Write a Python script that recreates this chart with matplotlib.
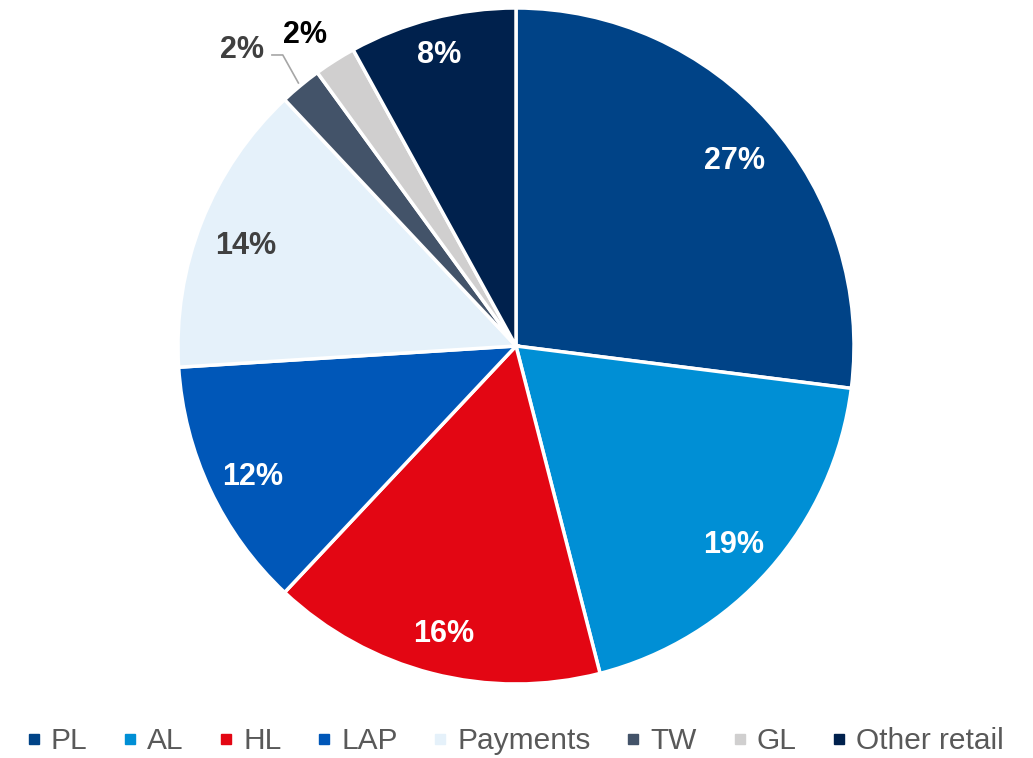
import math
import matplotlib.pyplot as plt
from matplotlib.lines import Line2D

plt.rcParams['font.family'] = ['Liberation Sans', 'DejaVu Sans']

# data
categories = ["PL", "AL", "HL", "LAP", "Payments", "TW", "GL", "Other retail"]
shares = [27, 19, 16, 12, 14, 2, 2, 8]
colors = ["#004387", "#008FD5", "#E30613", "#0057B8", "#E5F1FA", "#435369", "#D0CFCF", "#00214D"]
label_colors = ["white", "white", "white", "white", "#404040", "#404040", "black", "white"]

W, H = 1033, 758
fig = plt.figure(figsize=(W / 100, H / 100), dpi=100)

cx, cy, r = 516, 346, 338
ax = fig.add_axes([(cx - r) / W, (H - cy - r) / H, 2 * r / W, 2 * r / H])

wedges, _ = ax.pie(shares, colors=colors, startangle=90, counterclock=False,
                   radius=1.0, wedgeprops=dict(edgecolor="white", linewidth=2.5))
ax.set_xlim(-1, 1)
ax.set_ylim(-1, 1)
ax.set_aspect("equal")
ax.axis("off")

for i, (w, val) in enumerate(zip(wedges, shares)):
    mid = math.radians((w.theta1 + w.theta2) / 2)
    txt = f"{val}%"
    kw = dict(ha="center", va="center", fontsize=22, fontweight="bold",
              color=label_colors[i])
    if categories[i] == "TW":
        # outside label with a leader line
        ax.text(-0.81, 0.876, txt, **kw)
        ex, ey = 1.01 * math.cos(mid), 1.01 * math.sin(mid)
        ax.plot([-0.722, -0.69, ex], [0.861, 0.861, ey], color="#A6A6A6", lw=1.2)
    elif categories[i] == "GL":
        ax.text(-0.624, 0.92, txt, **kw)
    else:
        d = 0.86 if val > 9 else 0.91
        ax.text(d * math.cos(mid), d * math.sin(mid) - 0.02, txt, **kw)

handles = [Line2D([], [], marker="s", linestyle="none", markersize=7.5,
                  markerfacecolor=c, markeredgecolor=c) for c in colors]
fig.legend(handles, categories, loc="center", bbox_to_anchor=(0.499, 1 - 741 / H),
           ncol=len(categories), frameon=False, fontsize=21.5,
           handlelength=0.45, handletextpad=0.35, columnspacing=1.2,
           labelcolor="#595959")

fig.savefig("out.png", dpi=100)
